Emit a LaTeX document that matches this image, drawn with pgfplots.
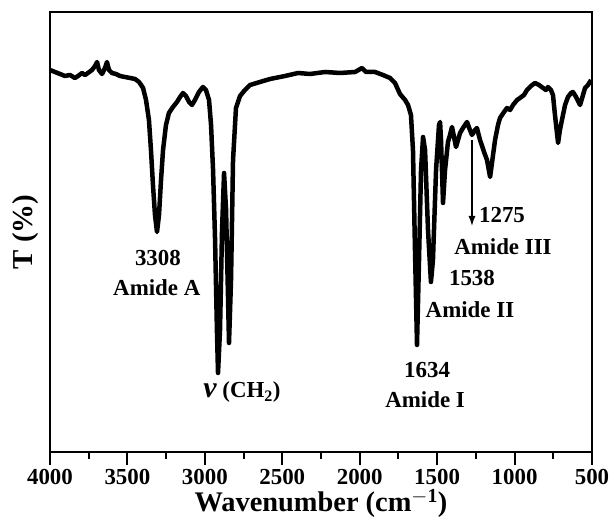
\documentclass[border=0pt]{standalone}
\usepackage{fontspec}
\setmainfont{Liberation Serif}
\usepackage{pgfplots}
\pgfplotsset{compat=1.18}
\usetikzlibrary{calc,arrows.meta}
\begin{document}
\begin{tikzpicture}
\begin{axis}[
  scale only axis, width=542bp, height=440bp,
  x dir=reverse, xmin=500, xmax=4000, ymin=0, ymax=440,
  ytick=\empty,
  xtick={500,1000,1500,2000,2500,3000,3500,4000},
  minor xtick={750,1250,1750,2250,2750,3250,3750},
  tick pos=left, tick align=outside,
  major tick length=13bp, minor tick length=7bp,
  tick style={line width=2bp, black},
  axis line style={line width=1.6bp},
  /pgf/number format/1000 sep={},
  /pgf/number format/assume math mode=true,
  ticklabel style={font=\fontsize{23}{26}\selectfont\bfseries},
  xticklabel style={yshift=-1bp},
  xlabel={Wavenumber (cm$^{\mathbf{-1}}$)},
  ylabel={T (\%)},
  xlabel style={font=\fontsize{28.5}{32}\selectfont\bfseries, at={(axis description cs:0.5,-0.118)}, anchor=center},
  ylabel style={font=\fontsize{29}{32}\selectfont\bfseries, at={(axis description cs:-0.046,0.5)}, anchor=center},
  clip=false,
]
\addplot[black, line width=4.5bp, line join=round] table {
x y
4000 382
3968 380
3935 378
3903 376
3871 377
3839 374
3819 376
3793 379
3774 377
3755 379
3729 382
3709 386
3696 390
3684 382
3664 378
3645 384
3632 390
3619 382
3600 379
3574 378
3548 376
3516 375
3483 374
3451 373
3425 370
3399 364
3380 352
3361 332
3348 302
3335 267
3322 237
3309 220
3296 237
3283 272
3270 302
3251 327
3232 339
3206 345
3180 350
3160 355
3141 359
3122 356
3102 350
3083 347
3064 352
3038 360
3012 365
2993 362
2973 352
2960 327
2947 282
2934 212
2922 122
2915 79
2902 122
2889 222
2876 279
2863 242
2850 152
2844 109
2831 172
2818 292
2799 344
2773 356
2741 362
2708 367
2644 370
2579 373
2482 376
2398 379
2321 378
2224 380
2127 379
2030 380
1985 384
1959 380
1901 380
1850 377
1804 374
1772 369
1740 358
1707 352
1688 347
1669 337
1656 302
1643 202
1630 107
1617 192
1604 282
1591 315
1578 302
1559 222
1540 170
1527 192
1507 282
1488 327
1481 330
1475 312
1462 249
1449 282
1430 310
1417 317
1404 325
1391 315
1378 305
1365 312
1352 319
1333 324
1307 330
1288 322
1275 317
1255 322
1243 324
1223 312
1197 300
1178 292
1158 275
1139 297
1126 312
1107 327
1094 334
1068 340
1049 344
1029 342
1010 347
984 352
965 354
939 357
920 362
894 366
868 369
842 367
816 364
797 362
784 365
765 362
752 357
739 337
719 309
707 322
694 332
674 347
655 355
635 359
623 360
603 355
577 347
558 357
545 364
526 367
506 372
};
\draw[-{Latex[length=10bp,width=7bp]}, line width=1.3bp] (axis cs:1275,312) -- (axis cs:1275,226);
\begin{scope}[every node/.style={font=\fontsize{23}{26}\selectfont\bfseries, anchor=center, inner sep=0pt}]
\node at (axis cs:3303,194) {3308};
\node at (axis cs:3310,164) {Amide A};
\node at (axis cs:2760,60) {{\fontsize{30}{32}\selectfont\itshape ν} (CH$_{\mathbf{2}}$)};
\node at (axis cs:1565,82) {1634};
\node at (axis cs:1578,52) {Amide I};
\node at (axis cs:1275,174) {1538};
\node at (axis cs:1288,142) {Amide II};
\node at (axis cs:1081,237) {1275};
\node at (axis cs:1075,205) {Amide III};
\end{scope}
\end{axis}
\path ($(current axis.south west)+(-50bp,-77bp)$) rectangle ($(current axis.north east)+(22bp,12bp)$);
\end{tikzpicture}
\end{document}
